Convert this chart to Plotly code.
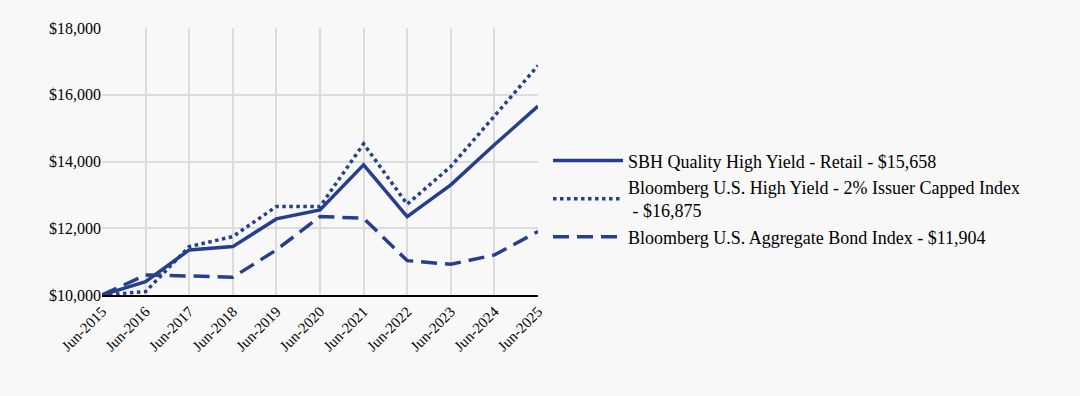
import plotly.graph_objects as go

categories = ["Jun-2015", "Jun-2016", "Jun-2017", "Jun-2018", "Jun-2019", "Jun-2020",
              "Jun-2021", "Jun-2022", "Jun-2023", "Jun-2024", "Jun-2025"]
fund = [10000, 10400, 11350, 11450, 12280, 12550, 13900, 12350, 13300, 14500, 15658]
hy_index = [10000, 10100, 11450, 11750, 12650, 12650, 14530, 12720, 13850, 15350, 16875]
agg_index = [10000, 10600, 10570, 10530, 11350, 12350, 12300, 11030, 10920, 11200, 11904]
names = ["SBH Quality High Yield - Retail - $15,658",
         "Bloomberg U.S. High Yield - 2% Issuer Capped Index<br> - $16,875",
         "Bloomberg U.S. Aggregate Bond Index - $11,904"]
y_ticks = [10000, 12000, 14000, 16000, 18000]

color = "#263f8c"
font_family = "Liberation Serif"

fig = go.Figure()
for vals, name, dash in [(fund, names[0], "solid"), (hy_index, names[1], "dot"),
                         (agg_index, names[2], "16px,8px")]:
    fig.add_trace(go.Scatter(x=categories, y=vals, name=name, mode="lines",
                             line=dict(color=color, width=3.5, dash=dash)))

fig.update_layout(
    width=1080, height=396,
    paper_bgcolor="#f8f8f8", plot_bgcolor="#f8f8f8",
    margin=dict(l=102, r=542, t=28, b=101, autoexpand=False),
    font=dict(family=font_family, size=16, color="#000"),
    showlegend=True,
    legend=dict(x=1.023, y=0.36, xanchor="left", yanchor="middle",
                font=dict(size=18, family=font_family), bgcolor="rgba(0,0,0,0)",
                itemwidth=70, tracegroupgap=0),
)
fig.update_xaxes(type="category", tickangle=-45, showgrid=True, gridcolor="#dcdcdc", gridwidth=1.5,
                 showline=True, linecolor="#000", linewidth=2, ticks="", range=[0, 10],
                 tickfont=dict(size=15))
fig.update_yaxes(range=[10000, 18000], tickvals=y_ticks, tickformat="$,.0f",
                 showgrid=True, gridcolor="#dcdcdc", gridwidth=1.5, zeroline=False,
                 showline=False, ticks="", tickfont=dict(size=16))

fig.write_html("out.html", config={"displayModeBar": False},
               post_script="document.body.style.margin='0px';")
